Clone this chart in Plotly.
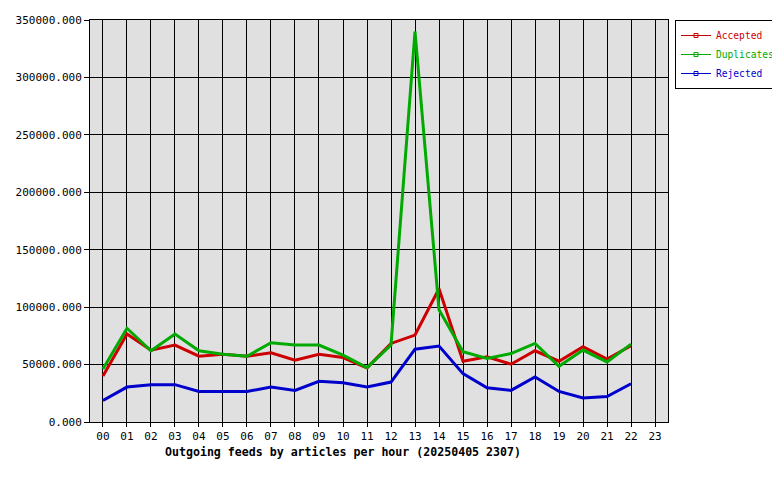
import plotly.graph_objects as go

hours = ["00", "01", "02", "03", "04", "05", "06", "07", "08", "09", "10", "11",
         "12", "13", "14", "15", "16", "17", "18", "19", "20", "21", "22", "23"]

# values (hour 23 has no data yet)
accepted = [40000, 76600, 62500, 67000, 57300, 59000, 57300, 60200, 53800, 59000, 56100, 47100,
            68400, 75700, 116000, 52900, 56700, 50300, 62000, 52900, 65500, 54700, 66400]
duplicates = [46200, 81600, 62000, 76600, 62000, 59000, 57300, 69000, 67000, 67000, 58200, 47400,
              67000, 340000, 97700, 61100, 55300, 59600, 68400, 48500, 62600, 52300, 67800]
rejected = [18700, 30400, 32500, 32500, 26600, 26600, 26600, 30400, 27500, 35400, 34200, 30400,
            34800, 63400, 66100, 42100, 29800, 27500, 39200, 26600, 21000, 22200, 33300]

font = "DejaVu Sans Mono"
x = list(range(len(hours)))
series = [("Accepted", accepted, "#cc0000"),
          ("Duplicates", duplicates, "#00aa00"),
          ("Rejected", rejected, "#0000cc")]

fig = go.Figure()
for name, vals, col in series:
    fig.add_trace(go.Scatter(x=x[:len(vals)], y=vals, mode="lines", showlegend=False,
                             line=dict(color=col, width=3)))
# legend entries: thin line with a small open square, like the original
for name, vals, col in series:
    fig.add_trace(go.Scatter(x=[None], y=[None], mode="lines+markers",
                             name='<span style="color:%s">%s</span>' % (col, name),
                             line=dict(color=col, width=1),
                             marker=dict(symbol="square-open", size=4, color=col)))

# the page puts the figure 8px in from the top-left corner of the window
fig.update_layout(
    width=772, height=472,
    margin=dict(l=82, r=112, t=12, b=58, autoexpand=False),
    paper_bgcolor="white", plot_bgcolor="#e0e0e0",
    font=dict(family=font, size=11, color="black"),
    showlegend=True,
    legend=dict(x=(667 - 82) / (660 - 82), y=1, xanchor="left", yanchor="top",
                bordercolor="black", borderwidth=1, bgcolor="white",
                font=dict(size=9.6), itemwidth=30, tracegroupgap=0),
)
fig.add_annotation(text="<b>Outgoing feeds by articles per hour (20250405 2307)</b>",
                   xref="paper", yref="paper", x=(335 - 82) / 578, y=-30 / 402,
                   xanchor="center", yanchor="middle", showarrow=False,
                   font=dict(family=font, size=11.6))
fig.update_xaxes(
    range=[-0.54, 23.54], tickmode="array", tickvals=x, ticktext=hours,
    showgrid=True, gridcolor="black", gridwidth=1, zeroline=False,
    ticks="outside", ticklen=4, tickcolor="black",
    showline=True, linecolor="black", mirror=True,
)
fig.update_yaxes(
    range=[0, 350000], tickvals=[0, 50000, 100000, 150000, 200000, 250000, 300000, 350000],
    tickformat=".3f", showgrid=True, gridcolor="black", gridwidth=1, zeroline=False,
    ticks="outside", ticklen=5, tickcolor="black",
    showline=True, linecolor="black", mirror=True,
)

fig.write_html("out.html")
